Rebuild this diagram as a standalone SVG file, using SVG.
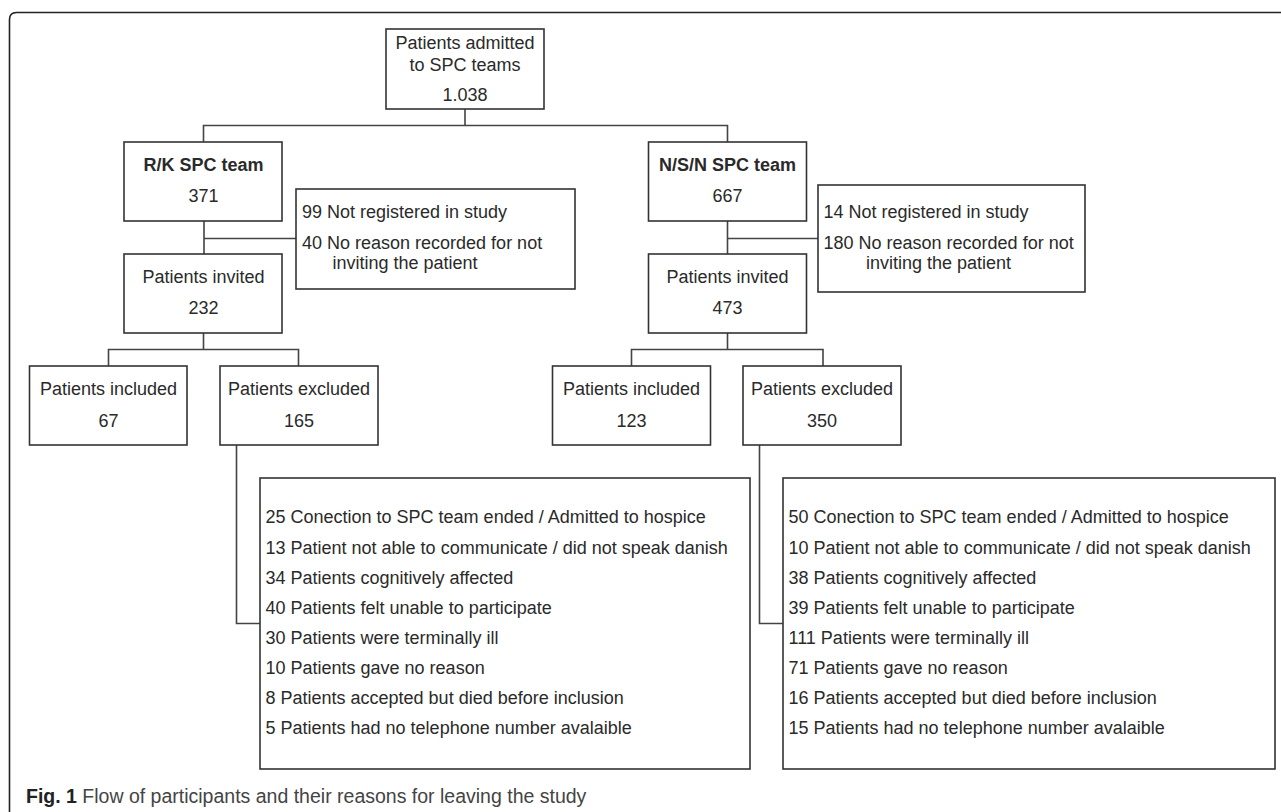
<svg xmlns="http://www.w3.org/2000/svg" width="1281" height="812" viewBox="0 0 1281 812">
<style>
.box{fill:#fff;stroke:#333;stroke-width:1.6}
.ln{fill:none;stroke:#444;stroke-width:1.6}
text{font-family:"Liberation Sans",Arial,sans-serif;font-size:18px;fill:#2a2a2a}
.c{text-anchor:middle}
.b{font-weight:bold}
.cap{font-size:19.5px;fill:#444}
</style>
<rect width="1281" height="812" fill="#fff"/>
<path d="M9.5,812 V19.5 Q9.5,12.5 16.5,12.5 H1281" fill="none" stroke="#222" stroke-width="1.6"/>
<g id="connectors">
<path class="ln" d="M465,109 V125.5 M203.5,142 V125.5 H727.5 V142"/>
<path class="ln" d="M204,221 V254 M204,238.5 H296"/>
<path class="ln" d="M203.5,333 V349.5 M108.5,366 V349.5 H298.5 V366"/>
<path class="ln" d="M236.5,445 V623.5 H260"/>
<path class="ln" d="M727.5,221 V254 M727.5,238.5 H818"/>
<path class="ln" d="M727.5,333 V349.5 M631.5,366 V349.5 H823 V366"/>
<path class="ln" d="M759.5,445 V623.5 H783"/>
</g>
<g id="n-admitted">
<rect class="box" x="386" y="29" width="158" height="80"/>
<text class="c" x="465" y="49">Patients admitted</text>
<text class="c" x="465" y="71">to SPC teams</text>
<text class="c" x="465" y="100.5">1.038</text>
</g>
<g id="n-rk">
<rect class="box" x="124" y="142" width="158" height="79"/>
<text class="c b" x="203.5" y="170.5">R/K SPC team</text>
<text class="c" x="203.5" y="201.5">371</text>
</g>
<g id="n-rk-notreg">
<rect class="box" x="296" y="189" width="279" height="100"/>
<text x="302" y="218">99 Not registered in study</text>
<text x="302" y="249">40 No reason recorded for not</text>
<text x="332.5" y="269">inviting the patient</text>
</g>
<g id="n-rk-invited">
<rect class="box" x="124" y="254" width="158" height="79"/>
<text class="c" x="203.5" y="283">Patients invited</text>
<text class="c" x="203.5" y="314">232</text>
</g>
<g id="n-rk-included">
<rect class="box" x="29.5" y="366" width="157.5" height="79"/>
<text class="c" x="108.5" y="395">Patients included</text>
<text class="c" x="108.5" y="426.5">67</text>
</g>
<g id="n-rk-excluded">
<rect class="box" x="220" y="366" width="158" height="79"/>
<text class="c" x="299" y="395">Patients excluded</text>
<text class="c" x="299" y="426.5">165</text>
</g>
<g id="n-rk-reasons">
<rect class="box" x="260" y="478" width="490" height="291"/>
<text x="265.5" y="523.3">25 Conection to SPC team ended / Admitted to hospice</text>
<text x="265.5" y="553.7">13 Patient not able to communicate / did not speak danish</text>
<text x="265.5" y="583.7">34 Patients cognitively affected</text>
<text x="265.5" y="614">40 Patients felt unable to participate</text>
<text x="265.5" y="643.7">30 Patients were terminally ill</text>
<text x="265.5" y="673.5">10 Patients gave no reason</text>
<text x="265.5" y="704.3">8 Patients accepted but died before inclusion</text>
<text x="265.5" y="734.3">5 Patients had no telephone number avalaible</text>
</g>
<g id="n-nsn">
<rect class="box" x="648.5" y="142" width="158" height="79"/>
<text class="c b" x="727.5" y="170.5">N/S/N SPC team</text>
<text class="c" x="727.5" y="201.5">667</text>
</g>
<g id="n-nsn-notreg">
<rect class="box" x="818" y="185" width="267" height="107"/>
<text x="823.5" y="218">14 Not registered in study</text>
<text x="823.5" y="249">180 No reason recorded for not</text>
<text x="866" y="269">inviting the patient</text>
</g>
<g id="n-nsn-invited">
<rect class="box" x="648.5" y="254" width="158" height="79"/>
<text class="c" x="727.5" y="283">Patients invited</text>
<text class="c" x="727.5" y="314">473</text>
</g>
<g id="n-nsn-included">
<rect class="box" x="552.5" y="366" width="158" height="79"/>
<text class="c" x="631.5" y="395">Patients included</text>
<text class="c" x="631.5" y="426.5">123</text>
</g>
<g id="n-nsn-excluded">
<rect class="box" x="743" y="366" width="158" height="79"/>
<text class="c" x="822" y="395">Patients excluded</text>
<text class="c" x="822" y="426.5">350</text>
</g>
<g id="n-nsn-reasons">
<rect class="box" x="783" y="478" width="492" height="291"/>
<text x="788.5" y="523.3">50 Conection to SPC team ended / Admitted to hospice</text>
<text x="788.5" y="553.7">10 Patient not able to communicate / did not speak danish</text>
<text x="788.5" y="583.7">38 Patients cognitively affected</text>
<text x="788.5" y="614">39 Patients felt unable to participate</text>
<text x="788.5" y="643.7">111 Patients were terminally ill</text>
<text x="788.5" y="673.5">71 Patients gave no reason</text>
<text x="788.5" y="704.3">16 Patients accepted but died before inclusion</text>
<text x="788.5" y="734.3">15 Patients had no telephone number avalaible</text>
</g>
<g id="caption">
<text class="cap" x="26" y="802.5"><tspan font-weight="bold" fill="#222">Fig. 1</tspan> Flow of participants and their reasons for leaving the study</text>
</g>
</svg>
